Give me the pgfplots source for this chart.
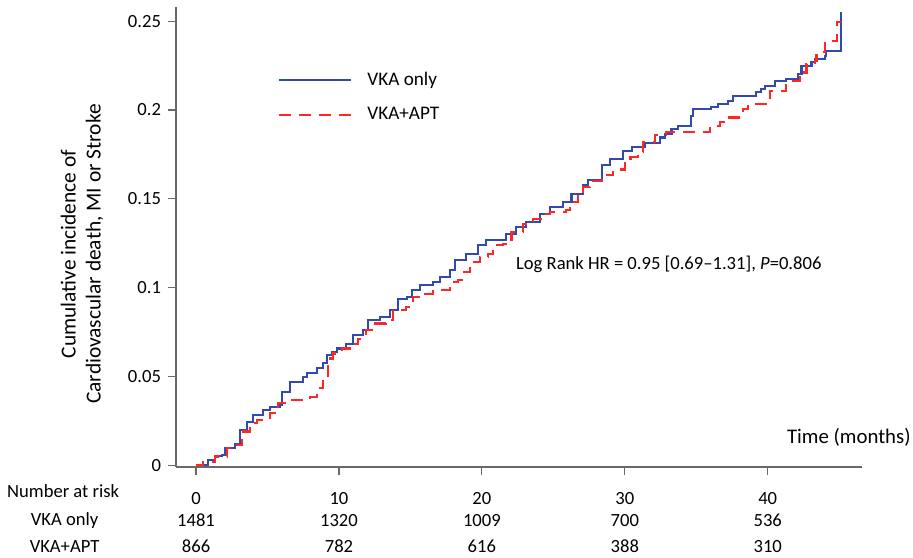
\documentclass[border=0pt]{standalone}
\usepackage{pgfplots}
\pgfplotsset{compat=1.18}
\usepackage{fontspec}
\setmainfont{Carlito}
\definecolor{vkablue}{RGB}{50,74,172}
\definecolor{aptred}{RGB}{255,38,38}
\definecolor{axgray}{RGB}{105,105,105}

% step points: time (months), cumulative incidence
\pgfplotstableread{
t y
0 0
0.86 0.003
1.33 0.005
1.8 0.006
2.0 0.0096
2.73 0.0118
3.08 0.0198
3.54 0.0245
4.0 0.0283
4.7 0.031
5.17 0.033
5.87 0.034
6.0 0.0414
6.57 0.047
7.5 0.0498
7.74 0.0517
8.44 0.0545
8.9 0.0573
9.14 0.062
9.5 0.0638
9.84 0.0657
10.5 0.0685
11.0 0.0732
11.7 0.076
12.05 0.0816
12.87 0.0835
13.57 0.0873
14.15 0.0938
14.73 0.0948
15.08 0.0985
15.66 0.1013
16.6 0.1032
17.06 0.106
17.76 0.1097
18.1 0.1153
18.9 0.119
19.74 0.1238
20.3 0.1266
21.7 0.1303
22.4 0.134
23.1 0.137
24.06 0.1416
24.76 0.1453
25.7 0.148
26.27 0.1525
27.1 0.1575
27.4 0.1605
28.4 0.1692
28.95 0.1725
29.9 0.1771
30.5 0.179
31.4 0.1815
32.45 0.1845
32.8 0.1865
33.27 0.1893
33.73 0.1912
34.66 0.1968
34.78 0.2006
36.06 0.2015
36.52 0.2034
37.22 0.2052
37.57 0.2077
39.2 0.21
39.56 0.2118
39.79 0.2137
40.49 0.2165
41.3 0.2174
42.12 0.2202
42.36 0.225
43.06 0.2268
43.29 0.2287
43.99 0.2305
44.1 0.2332
45.1 0.255
}\vkaonly

\pgfplotstableread{
t y
0 0
0.5 0.002
1.3 0.0049
2.19 0.0096
2.84 0.0114
3.2 0.019
3.78 0.0236
4.24 0.0254
5.17 0.0292
5.76 0.0348
6.34 0.0367
7.97 0.0385
8.44 0.0404
8.67 0.0433
8.9 0.0489
9.25 0.0601
9.6 0.0629
10.19 0.0657
10.77 0.0685
11.35 0.0713
11.9 0.076
12.4 0.0798
13.3 0.0816
13.8 0.0873
14.7 0.089
15.2 0.0948
15.66 0.0966
16.6 0.0985
17.76 0.1032
18.34 0.1041
18.6 0.1087
19.16 0.1144
19.86 0.1172
20.44 0.119
20.8 0.1238
21.5 0.1247
22.07 0.1312
22.9 0.136
23.6 0.1388
24.3 0.1416
24.76 0.1425
25.9 0.1435
26.15 0.148
26.7 0.1528
27.1 0.1565
27.55 0.1598
28.4 0.1635
29.2 0.1665
30.0 0.17
30.4 0.1735
30.9 0.1765
31.3 0.1818
32.1 0.186
32.9 0.1878
35.94 0.1908
36.64 0.193
37.22 0.1958
38.27 0.2006
38.62 0.2034
40.14 0.2109
41.31 0.2165
42.25 0.2183
42.36 0.2211
42.71 0.2258
43.29 0.2277
43.41 0.2324
43.99 0.2389
44.85 0.2495
45.1 0.2495
}\vkaapt

\begin{document}
\begin{tikzpicture}
\begin{axis}[
  scale only axis,
  width=343pt, height=230pt,
  xmin=-1.4, xmax=46.6,
  ymin=-0.001, ymax=0.258,
  axis x line*=bottom, axis y line*=left,
  axis line style={axgray, line width=0.8pt},
  tick style={axgray, line width=0.6pt},
  tick align=outside,
  major tick length=4pt,
  xtick={0,10,20,30,40},
  xticklabels={0,10,20,30,40},
  ytick={0,0.05,0.1,0.15,0.2,0.25},
  yticklabels={0,0.05,0.1,0.15,0.2,0.25},
  tick label style={font=\fontsize{9.3}{11}\selectfont},
  xticklabel style={yshift=-5pt},
  ylabel={Cumulative incidence of\\Cardiovascular death, MI or Stroke},
  ylabel style={at={(rel axis cs:-0.137,0.463)}, anchor=center, align=center,
    font=\fontsize{10.7}{12.5}\selectfont},
  clip=false,
  legend style={draw=none, fill=none, at={(axis cs:5.73,0.224)}, anchor=north west,
    inner sep=0pt, row sep=5.5pt, font=\fontsize{9.6}{11}\selectfont},
  legend cell align=left,
  legend image code/.code={\draw[#1] (0pt,0pt) -- (36pt,0pt);},
]
\addplot[const plot, vkablue, line width=1.05pt] table[x=t, y=y] {\vkaonly};
\addlegendentry{\hspace{5.5pt}VKA only}
\addplot[const plot, aptred, line width=1.05pt, dash pattern=on 6pt off 4pt] table[x=t, y=y] {\vkaapt};
\addlegendentry{\hspace{5.5pt}VKA+APT}

\node[anchor=west, font=\fontsize{9.3}{11}\selectfont] at (axis cs:21.9,0.113)
  {Log Rank HR = 0.95 [0.69--1.31], \textit{P}=0.806};
\node[anchor=east, inner sep=0pt, font=\fontsize{10.4}{12}\selectfont] at (rel axis cs:1.0714,0.065) {Time (months)};

\node[font=\fontsize{9.3}{11}\selectfont] at (axis cs:-9.3,-0.0146) {Number at risk};
\node[font=\fontsize{9.3}{11}\selectfont] at (axis cs:-9.2,-0.0309) {VKA only};
\node[font=\fontsize{9.3}{11}\selectfont] at (axis cs:-9.2,-0.0455) {VKA+APT};
\node[font=\fontsize{9.3}{11}\selectfont] at (axis cs:0,-0.0309) {1481};
\node[font=\fontsize{9.3}{11}\selectfont] at (axis cs:10,-0.0309) {1320};
\node[font=\fontsize{9.3}{11}\selectfont] at (axis cs:20,-0.0309) {1009};
\node[font=\fontsize{9.3}{11}\selectfont] at (axis cs:30,-0.0309) {700};
\node[font=\fontsize{9.3}{11}\selectfont] at (axis cs:40,-0.0309) {536};
\node[font=\fontsize{9.3}{11}\selectfont] at (axis cs:0,-0.0455) {866};
\node[font=\fontsize{9.3}{11}\selectfont] at (axis cs:10,-0.0455) {782};
\node[font=\fontsize{9.3}{11}\selectfont] at (axis cs:20,-0.0455) {616};
\node[font=\fontsize{9.3}{11}\selectfont] at (axis cs:30,-0.0455) {388};
\node[font=\fontsize{9.3}{11}\selectfont] at (axis cs:40,-0.0455) {310};

\coordinate (bbll) at (rel axis cs:-0.2566,-0.1957);
\coordinate (bbur) at (rel axis cs:1.0743,1.0152);
\end{axis}
\pgfresetboundingbox
\useasboundingbox (bbll) rectangle (bbur);
\end{tikzpicture}
\end{document}
